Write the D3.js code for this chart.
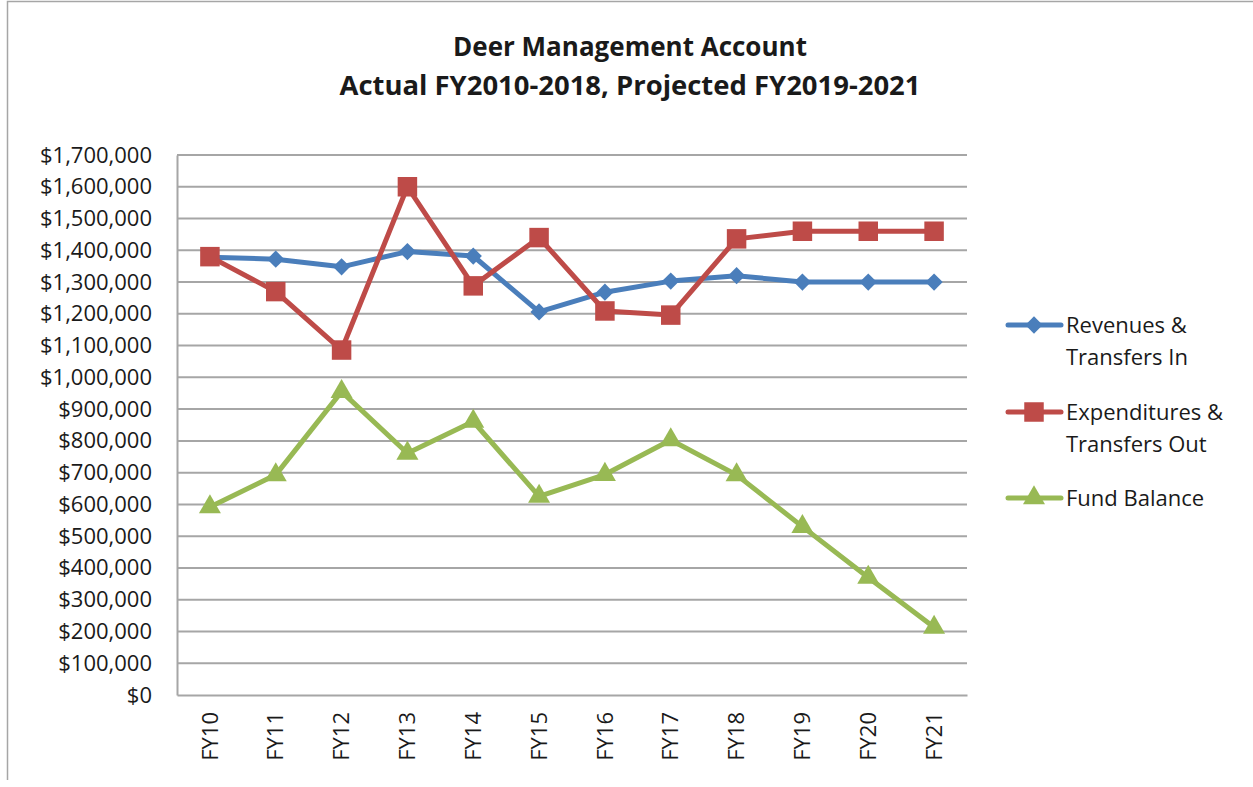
<!DOCTYPE html>
<html>
<head>
<meta charset="utf-8">
<script src="https://cdn.jsdelivr.net/npm/d3@7"></script>
<style>
  body { margin: 0; background: #fff; }
  text { font-family: "Open Sans", sans-serif; fill: #1a1a1a; }
</style>
</head>
<body>
<div id="chart"></div>
<script>
var years = ['FY10', 'FY11', 'FY12', 'FY13', 'FY14', 'FY15', 'FY16', 'FY17', 'FY18', 'FY19', 'FY20', 'FY21'];
var revenues = [1378000, 1372000, 1348000, 1396000, 1382000, 1206000, 1268000, 1303000, 1320000, 1300000, 1300000, 1300000];
var expenditures = [1380000, 1270000, 1086000, 1600000, 1288000, 1440000, 1209000, 1196000, 1436000, 1460000, 1460000, 1460000];
var fundBalance = [592000, 693000, 955000, 761000, 861000, 625000, 694000, 803000, 693000, 530000, 370000, 213000];
var yTicks = [0, 100000, 200000, 300000, 400000, 500000, 600000, 700000, 800000, 900000, 1000000, 1100000, 1200000, 1300000, 1400000, 1500000, 1600000, 1700000];
var seriesNames = [['Revenues &', 'Transfers In'], ['Expenditures &', 'Transfers Out'], ['Fund Balance']];

var width = 1253, height = 787;
var plotLeft = 177, plotRight = 967, plotTop = 155, plotBottom = 695;

var svg = d3.select('#chart').append('svg')
  .attr('width', width)
  .attr('height', height);

// outer frame (only top and left show in the picture)
svg.append('path')
  .attr('d', 'M7.5,780 L7.5,1.5 L1253,1.5')
  .attr('fill', 'none')
  .attr('stroke', '#a6a6a6')
  .attr('stroke-width', 1.5);

// title
svg.append('text')
  .attr('x', 630).attr('y', 56)
  .attr('text-anchor', 'middle')
  .style('font-size', '26px').style('font-weight', 'bold')
  .text('Deer Management Account');
svg.append('text')
  .attr('x', 630).attr('y', 95)
  .attr('text-anchor', 'middle')
  .style('font-size', '26px').style('font-weight', 'bold')
  .attr('textLength', 581).attr('lengthAdjust', 'spacingAndGlyphs')
  .text('Actual FY2010-2018, Projected FY2019-2021');

var x = d3.scaleBand().domain(years).range([plotLeft, plotRight]);
var y = d3.scaleLinear().domain([0, 1700000]).range([plotBottom, plotTop]);
var cx = function(d, i) { return x(years[i]) + x.bandwidth() / 2; };

// gridlines
svg.append('g').selectAll('line')
  .data(yTicks.filter(function(d) { return d > 0; }))
  .enter().append('line')
  .attr('x1', plotLeft).attr('x2', plotRight)
  .attr('y1', function(d) { return y(d); })
  .attr('y2', function(d) { return y(d); })
  .attr('stroke', '#a6a6a6')
  .attr('stroke-width', 2);

// y axis
var yAxis = d3.axisLeft(y)
  .tickValues(yTicks)
  .tickSize(0)
  .tickPadding(25)
  .tickFormat(function(d) { return '$' + d3.format(',')(d); });
var yg = svg.append('g')
  .attr('transform', 'translate(' + plotLeft + ',0)')
  .call(yAxis);
yg.select('.domain').attr('stroke', '#a6a6a6').attr('stroke-width', 2);
yg.selectAll('text').style('font-size', '22px').style('font-family', '"Open Sans", sans-serif').attr('fill', '#1a1a1a');

// x axis
var xAxis = d3.axisBottom(x).tickSize(0);
var xg = svg.append('g')
  .attr('transform', 'translate(0,' + plotBottom + ')')
  .call(xAxis);
xg.select('.domain').attr('stroke', '#a6a6a6').attr('stroke-width', 2);
xg.selectAll('text')
  .style('font-size', '22px').style('font-family', '"Open Sans", sans-serif').attr('fill', '#1a1a1a')
  .attr('transform', 'rotate(-90)')
  .attr('text-anchor', 'end')
  .attr('x', -17)
  .attr('y', 0)
  .attr('dy', '0.35em');

var series = [
  { values: revenues, color: '#4a7ebb', marker: d3.symbolDiamond2, size: 190 },
  { values: expenditures, color: '#be4b48', marker: d3.symbolSquare, size: 380 },
  { values: fundBalance, color: '#98b954', marker: d3.symbolTriangle, size: 210 }
];

var line = d3.line()
  .x(cx)
  .y(function(d) { return y(d); });

series.forEach(function(s) {
  svg.append('path')
    .datum(s.values)
    .attr('fill', 'none')
    .attr('stroke', s.color)
    .attr('stroke-width', 5)
    .attr('stroke-linejoin', 'round')
    .attr('d', line);
  svg.append('g').selectAll('path')
    .data(s.values)
    .enter().append('path')
    .attr('d', d3.symbol().type(s.marker).size(s.size))
    .attr('fill', s.color)
    .attr('transform', function(d, i) {
      return 'translate(' + cx(d, i) + ',' + y(d) + ')';
    });
});

// legend
var legendY = [325, 412, 498];
series.forEach(function(s, i) {
  var g = svg.append('g').attr('transform', 'translate(0,' + legendY[i] + ')');
  g.append('line')
    .attr('x1', 1008).attr('x2', 1061)
    .attr('stroke', s.color).attr('stroke-width', 5).attr('stroke-linecap', 'round');
  g.append('path')
    .attr('d', d3.symbol().type(s.marker).size(s.size))
    .attr('fill', s.color)
    .attr('transform', 'translate(1034,0)');
  seriesNames[i].forEach(function(t, j) {
    g.append('text')
      .attr('x', 1066).attr('y', j * 32)
      .attr('dy', '0.35em')
      .style('font-size', '22px')
      .text(t);
  });
});
</script>
</body>
</html>
